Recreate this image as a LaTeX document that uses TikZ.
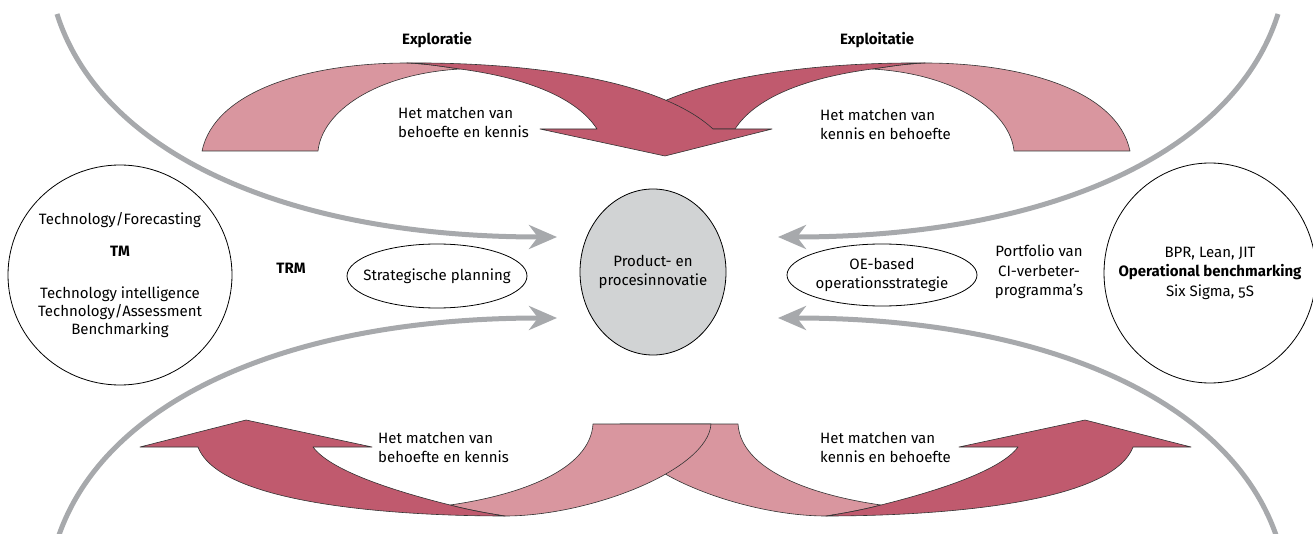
\documentclass[tikz,border=0pt]{standalone}
\usepackage{fontspec}
\setmainfont{Fira Sans}[Numbers=OldStyle]
\usetikzlibrary{shapes.geometric}
\usetikzlibrary{arrows.meta}

\definecolor{lightrose}{RGB}{217,150,159}
\definecolor{darkrose}{RGB}{192,90,110}
\definecolor{bowgray}{RGB}{167,169,172}
\definecolor{corefill}{RGB}{209,211,212}

\begin{document}
\begin{tikzpicture}[x=1pt,y=-1pt,every node/.style={font=\fontsize{15}{19.5}\selectfont,align=center,inner sep=0pt},
						ring/.style={ellipse,draw,line width=0.8pt},
						light/.style={fill=lightrose,draw=black!80,line width=0.6pt,line join=round},
						dark/.style={fill=darkrose,draw=black!80,line width=0.6pt,line join=round},
						bow/.style={draw=bowgray,line width=5pt,-{Stealth[length=28pt,width=24pt,inset=9pt]}},
						head/.style={font=\fontsize{15}{19.5}\selectfont\bfseries}
						]
						\useasboundingbox (0,0) rectangle (1313,534);
						\coordinate (nw) at (57,14);
						\coordinate (ne) at (1278,14);
						\coordinate (sw) at (57,541);
						\coordinate (se) at (1278,541);
						\coordinate (nwtip) at (557,237);
						\coordinate (netip) at (778,237);
						\coordinate (swtip) at (557,318);
						\coordinate (setip) at (778,318);
						\draw[bow] (nw) .. controls (100,150) and (280,237) .. (nwtip);
						\draw[bow] (ne) .. controls (1235,150) and (1055,237) .. (netip);
						\draw[bow] (sw) .. controls (100,405) and (280,318) .. (swtip);
						\draw[bow] (se) .. controls (1235,405) and (1055,318) .. (setip);
						% exploitatie
						\path[light] (1130,151) .. controls (1117,90) and (1022,63) .. (925,63) .. controls (902,64) and (887,67) .. (872,69)
							.. controls (957,74) and (1010,112) .. (1014,151) -- cycle;
						\path[dark] (925,63) .. controls (802,62) and (672,80) .. (619,129) -- (735,129)
							.. controls (757,95) and (812,77) .. (872,69) .. controls (887,67) and (902,64) .. (925,63) -- cycle;
						% exploratie
						\path[light] (202,151) .. controls (215,90) and (310,63) .. (407,63) .. controls (430,64) and (445,67) .. (460,69)
							.. controls (375,74) and (322,112) .. (318,151) -- cycle;
						\path[dark] (407,63) .. controls (530,62) and (660,80) .. (713,129) -- (772,129) -- (665,156) -- (540,129) -- (597,129)
							.. controls (575,95) and (520,77) .. (460,69) .. controls (445,67) and (430,64) .. (407,63) -- cycle;
						% lower pair, the right one is the mirror image
						\foreach \side in {-1,1}{
							\begin{scope}[xshift={(1-\side)*665.5},xscale=\side]
								\path[light] (711,424) .. controls (708,470) and (590,516) .. (505,516) .. controls (485,513) and (465,509) .. (450,505)
									.. controls (520,495) and (590,470) .. (593,424) -- cycle;
								\path[dark] (505,516) .. controls (400,516) and (220,505) .. (198,447) -- (140,447) -- (246,420) -- (372,447) -- (313,447)
									.. controls (330,470) and (390,490) .. (450,505) .. controls (465,509) and (485,513) .. (505,516) -- cycle;
							\end{scope}
						}
						\node[head] (exploratie) at (437,40) {Exploratie};
						\node[head] (exploitatie) at (877,40) {Exploitatie};
						\node[anchor=west,align=left] (matchnw) at (398,122.5) {Het matchen van\\behoefte en kennis};
						\node[anchor=west,align=left] (matchne) at (820,124.5) {Het matchen van\\kennis en behoefte};
						\node[anchor=west,align=left] (matchsw) at (378,447.5) {Het matchen van\\behoefte en kennis};
						\node[anchor=west,align=left] (matchse) at (820,447.5) {Het matchen van\\kennis en behoefte};
						\node[ring,minimum width=224pt,minimum height=220pt,label={center:Technology/Forecasting\\[13pt]\textbf{TM}\\[22pt]Technology intelligence\\[-1.5pt]Technology/Assessment\\[-1.5pt]Benchmarking}] (tm) at (120,275) {};
						\node[head] (trm) at (291,268) {TRM};
						\node[ring,minimum width=180pt,minimum height=64pt,label={center:Strategische planning}] (strat) at (437,276) {};
						\node[ring,fill=corefill,minimum width=146pt,minimum height=166pt,label={center:Product- en\\procesinnovatie}] (innov) at (653,272) {};
						\node[ring,minimum width=190pt,minimum height=62pt,label={center:OE-based\\operationsstrategie}] (oe) at (882,275) {};
						\node (portfolio) at (1039,272) {Portfolio van\\CI-verbeter-\\programma’s};
						\node[ring,minimum width=212pt,minimum height=220pt,label={center:BPR, Lean, JIT\\\textbf{Operational benchmarking}\\Six Sigma, 5S}] (bpr) at (1210,273) {};
						\end{tikzpicture}
\end{document}
